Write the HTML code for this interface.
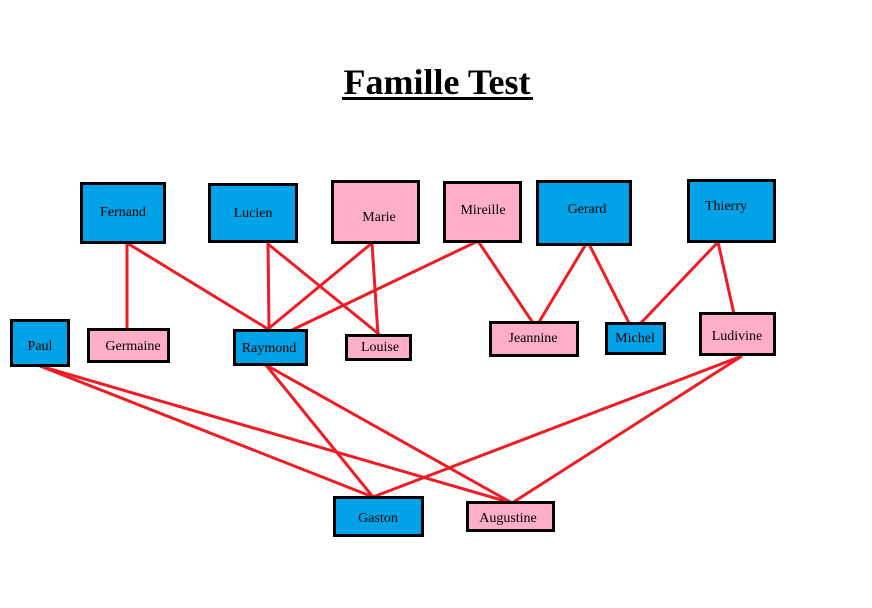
<!DOCTYPE html>
<html><head><meta charset="utf-8"><style>
html,body{margin:0;padding:0;background:#fff;width:872px;height:608px;overflow:hidden}
text{font-family:"Liberation Serif",serif;font-size:14px;fill:#000}
</style></head><body>
<svg width="872" height="608" viewBox="0 0 872 608" xmlns="http://www.w3.org/2000/svg">
<text x="437" y="94" text-anchor="middle" style="font-size:36px;font-weight:bold">Famille Test</text>
<rect x="342" y="97" width="191" height="3" fill="#000"/>
<g stroke="#ee1c24" stroke-width="3" fill="none">
<line x1="127" y1="243" x2="127" y2="329"/>
<line x1="127" y1="243" x2="268" y2="329"/>
<line x1="268" y1="242" x2="269" y2="329"/>
<line x1="268" y1="244" x2="380" y2="335"/>
<line x1="372" y1="243" x2="268" y2="329"/>
<line x1="372" y1="243" x2="378" y2="335"/>
<line x1="478" y1="241" x2="292" y2="330"/>
<line x1="478" y1="241" x2="533" y2="323"/>
<line x1="586" y1="244" x2="539" y2="322"/>
<line x1="589" y1="244" x2="629" y2="323"/>
<line x1="718" y1="242" x2="640" y2="324"/>
<line x1="718" y1="242" x2="734" y2="314"/>
<line x1="40" y1="366" x2="373" y2="497"/>
<line x1="40" y1="366" x2="512" y2="503"/>
<line x1="266" y1="365" x2="373" y2="497"/>
<line x1="266" y1="365" x2="512" y2="503"/>
<line x1="742" y1="356" x2="373" y2="497"/>
<line x1="742" y1="356" x2="512" y2="503"/>
</g>
<g stroke="#000" stroke-width="3">
<rect x="81.5" y="183.5" width="83" height="59" fill="#00a2e8"/>
<rect x="209.5" y="184.5" width="87" height="57" fill="#00a2e8"/>
<rect x="332.5" y="181.5" width="86" height="61" fill="#ffaec9"/>
<rect x="444.5" y="182.5" width="76" height="59" fill="#ffaec9"/>
<rect x="537.5" y="181.5" width="93" height="63" fill="#00a2e8"/>
<rect x="688.5" y="180.5" width="86" height="61" fill="#00a2e8"/>
<rect x="11.5" y="320.5" width="57" height="45" fill="#00a2e8"/>
<rect x="88.5" y="329.5" width="80" height="32" fill="#ffaec9"/>
<rect x="234.5" y="330.5" width="72" height="34" fill="#00a2e8"/>
<rect x="346.5" y="335.5" width="64" height="24" fill="#ffaec9"/>
<rect x="490.5" y="322.5" width="87" height="33" fill="#ffaec9"/>
<rect x="606.5" y="323.5" width="58" height="30" fill="#00a2e8"/>
<rect x="700.5" y="313.5" width="74" height="41" fill="#ffaec9"/>
<rect x="334.5" y="497.5" width="88" height="38" fill="#00a2e8"/>
<rect x="467.5" y="502.5" width="86" height="28" fill="#ffaec9"/>
</g>
<g text-anchor="middle">
<text x="123" y="216">Fernand</text>
<text x="253" y="217">Lucien</text>
<text x="379" y="221">Marie</text>
<text x="483" y="214">Mireille</text>
<text x="587" y="213">Gerard</text>
<text x="726" y="210">Thierry</text>
<text x="40" y="350">Paul</text>
<text x="133" y="350">Germaine</text>
<text x="269" y="352">Raymond</text>
<text x="380" y="351">Louise</text>
<text x="533" y="342">Jeannine</text>
<text x="635" y="342">Michel</text>
<text x="737" y="340">Ludivine</text>
<text x="378" y="522">Gaston</text>
<text x="508" y="522">Augustine</text>
</g>
</svg>
</body></html>
